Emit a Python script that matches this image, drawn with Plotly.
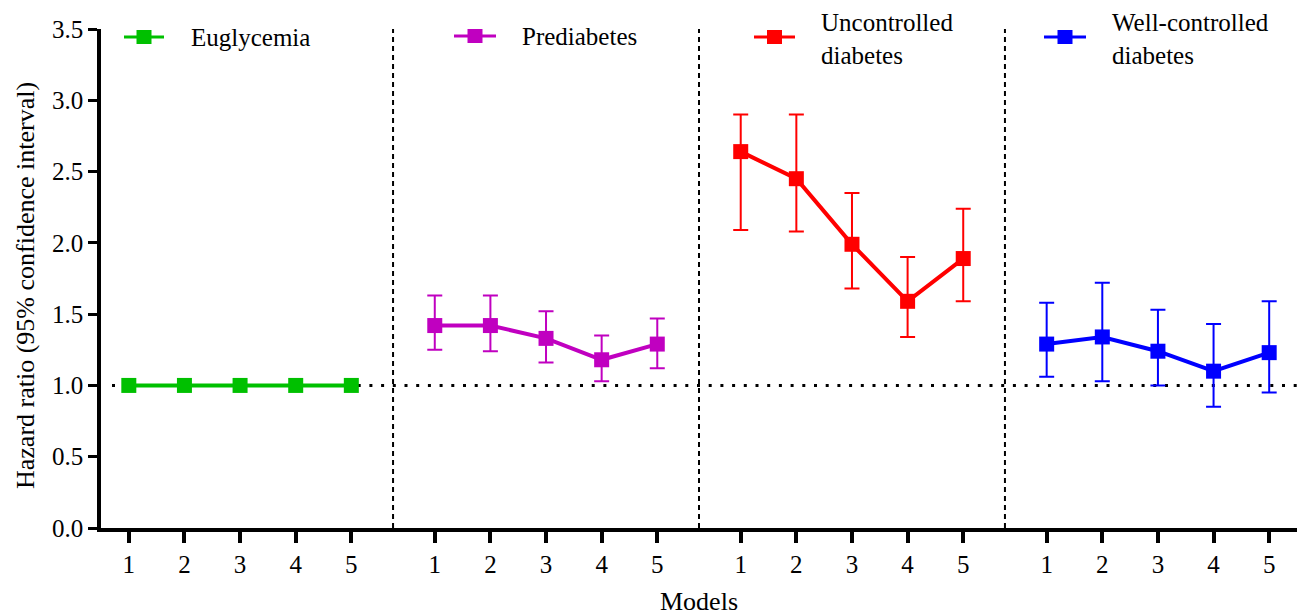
import plotly.graph_objects as go

# ---------------- data ----------------
models = [1, 2, 3, 4, 5]
model_labels = ["1", "2", "3", "4", "5"]
groups = ["Euglycemia", "Prediabetes", "Uncontrolled<br>diabetes", "Well-controlled<br>diabetes"]
colors = ["#00C000", "#C000C0", "#FF0000", "#0000FF"]

hr_eu = [1.00, 1.00, 1.00, 1.00, 1.00]

hr_pre = [1.42, 1.42, 1.33, 1.18, 1.29]
lo_pre = [1.25, 1.24, 1.16, 1.03, 1.12]
hi_pre = [1.63, 1.63, 1.52, 1.35, 1.47]

hr_unc = [2.64, 2.45, 1.99, 1.59, 1.89]
lo_unc = [2.09, 2.08, 1.68, 1.34, 1.59]
hi_unc = [2.90, 2.90, 2.35, 1.90, 2.24]

hr_well = [1.29, 1.34, 1.24, 1.10, 1.23]
lo_well = [1.06, 1.03, 1.00, 0.85, 0.95]
hi_well = [1.58, 1.72, 1.53, 1.43, 1.59]

y_ticks = [0.0, 0.5, 1.0, 1.5, 2.0, 2.5, 3.0, 3.5]
reference_hr = 1.0

# ---------------- layout constants ----------------
W, H = 1301, 616
ML, MR, MT, MB = 101, 4, 29, 88
GROUP_GAP = 5.5
FONT = "Liberation Serif"

def px_x(px):
    return (px - ML) / (W - ML - MR)

def px_y(py):
    return (H - MB - py) / (H - MT - MB)

series = [
    (hr_eu, None, None),
    (hr_pre, lo_pre, hi_pre),
    (hr_unc, lo_unc, hi_unc),
    (hr_well, lo_well, hi_well),
]

fig = go.Figure()

tickvals, ticktext = [], []
for g, (hr, lo, hi) in enumerate(series):
    xs = [g * GROUP_GAP + m for m in models]
    tickvals += xs
    ticktext += model_labels
    err = None
    if lo is not None:
        err = dict(
            type="data", symmetric=False,
            array=[h - v for h, v in zip(hi, hr)],
            arrayminus=[v - l for l, v in zip(lo, hr)],
            color=colors[g], thickness=2, width=7.5,
        )
    fig.add_trace(go.Scatter(
        x=xs, y=hr, mode="lines+markers",
        line=dict(color=colors[g], width=4),
        marker=dict(symbol="square", size=15, color=colors[g], line=dict(width=0)),
        error_y=err, showlegend=False, name=groups[g].replace("<br>", " "),
        cliponaxis=False,
    ))

shapes = []
# dotted reference line at HR = 1
shapes.append(dict(type="line", xref="paper", yref="y", x0=px_x(112), x1=1,
                   y0=reference_hr, y1=reference_hr, layer="below",
                   line=dict(color="black", width=3, dash="3px,8.7px")))
# dashed group dividers
for g in range(3):
    xd = g * GROUP_GAP + 5.75
    shapes.append(dict(type="line", xref="x", yref="paper", x0=xd, x1=xd, y0=0, y1=1,
                       layer="below", line=dict(color="black", width=2, dash="5px,4px")))

# manual legend keys
legend_keys = [(124, 164, 37, 189, 37), (454, 496, 36, 520, 36),
               (754, 795, 37, 819, 39), (1044, 1086, 37, 1110, 39)]
annotations = []
for g, (xa, xb, yk, xt, yt) in enumerate(legend_keys):
    shapes.append(dict(type="line", xref="paper", yref="paper",
                       x0=px_x(xa), x1=px_x(xb), y0=px_y(yk), y1=px_y(yk),
                       line=dict(color=colors[g], width=3)))
    xc = (xa + xb) / 2
    shapes.append(dict(type="rect", xref="paper", yref="paper",
                       x0=px_x(xc - 7.5), x1=px_x(xc + 7.5), y0=px_y(yk + 7), y1=px_y(yk - 7),
                       fillcolor=colors[g], line=dict(width=0)))
    annotations.append(dict(text=groups[g], xref="paper", yref="paper",
                            x=px_x(xt), y=px_y(yt), xanchor="left", yanchor="middle",
                            align="left", showarrow=False,
                            font=dict(family=FONT, size=25, color="black")))

# axis titles
annotations.append(dict(text="Models", xref="paper", yref="paper", x=0.5, y=px_y(601),
                        xanchor="center", yanchor="middle", showarrow=False,
                        font=dict(family=FONT, size=26, color="black")))
annotations.append(dict(text="Hazard ratio (95% confidence interval)", xref="paper", yref="paper",
                        x=px_x(25), y=px_y(286), textangle=-90,
                        xanchor="center", yanchor="middle", showarrow=False,
                        font=dict(family=FONT, size=26, color="black")))

fig.update_layout(
    width=W, height=H,
    margin=dict(l=ML, r=MR, t=MT, b=MB),
    paper_bgcolor="white", plot_bgcolor="white",
    font=dict(family=FONT, size=25, color="black"),
    shapes=shapes, annotations=annotations,
    showlegend=False,
    xaxis=dict(range=[0.5, 22.0], tickvals=tickvals, ticktext=ticktext,
               showgrid=False, zeroline=False, showline=True, linecolor="black", linewidth=4,
               ticks="outside", ticklen=11, tickwidth=3.5, tickcolor="black",
               tickfont=dict(family=FONT, size=25)),
    yaxis=dict(range=[0, 3.5], tickvals=y_ticks, tickformat=".1f",
               showgrid=False, zeroline=False, showline=True, linecolor="black", linewidth=3.5,
               ticks="outside", ticklen=9, tickwidth=3, tickcolor="black",
               tickfont=dict(family=FONT, size=25)),
)

fig.write_html("out.html", config={"displayModeBar": False},
               post_script="document.body.style.margin='0';document.body.style.padding='0';")
